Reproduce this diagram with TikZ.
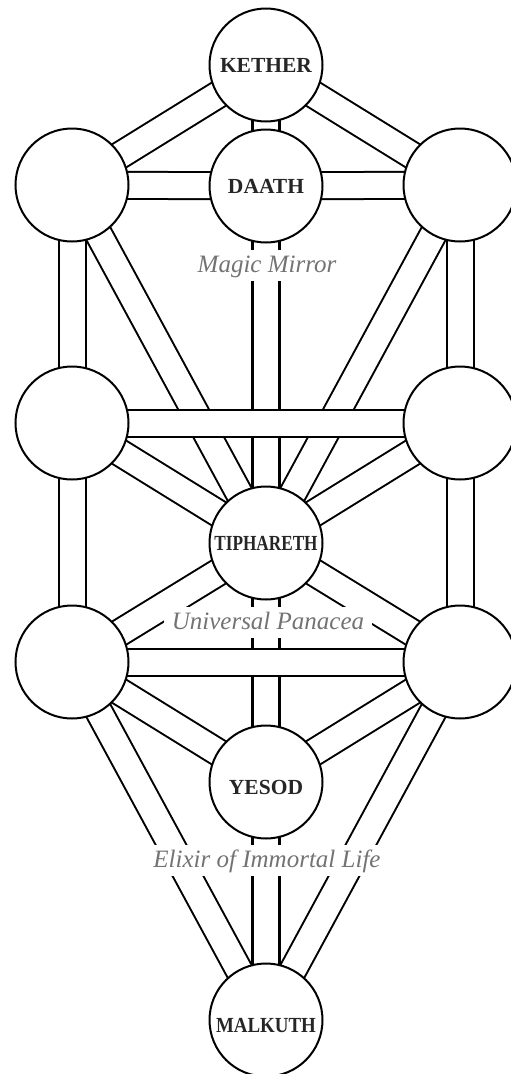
\documentclass[tikz,border=0pt]{standalone}
\usepackage{fontspec}
\usepackage{graphicx}
\setmainfont{Liberation Serif}
\pgfdeclarelayer{background}
\pgfsetlayers{background,main}
\begin{document}
\begin{tikzpicture}[x=1pt,y=-1pt,
  sephira/.style={circle, draw=black, line width=2pt, fill=white,
    minimum size=113pt, inner sep=0pt,
    font=\fontsize{21.5}{24}\selectfont\bfseries, text=black!85},
  lowtext/.style={text height=24pt, text depth=0pt},
  chan/.style={draw=black, line width=2pt, double=white, double distance=25pt},
  pillar/.style={draw=black, line width=3.2pt, double=white, double distance=23.8pt},
  gloss/.style={fill=white, inner xsep=8pt, inner ysep=0pt, text height=22pt,
    text depth=9pt, anchor=base, font=\fontsize{25}{28}\selectfont\itshape,
    text=black!55}]
\useasboundingbox (0,0) rectangle (511,1074);
% sephiroth
\node[sephira] (K)  at (266,65)  {KETHER};
\node[sephira] (D)  at (266,186) {DAATH};
\node[sephira] (LT) at (72,185)  {};
\node[sephira] (RT) at (460,185) {};
\node[sephira] (LM) at (72,423)  {};
\node[sephira] (RM) at (460,423) {};
\node[sephira] (T)  at (266,543) {\scalebox{0.8}[1]{TIPHARETH}};
\node[sephira] (LL) at (72,662)  {};
\node[sephira] (RL) at (460,662) {};
\node[sephira, lowtext] (Y) at (266,782) {YESOD};
\node[sephira, lowtext] (M) at (266,1020) {\scalebox{0.88}[1]{MALKUTH}};
% glosses
\node[gloss] (mm) at (267,272) {Magic Mirror};
\node[gloss] (up) at (268,629) {Universal Panacea};
\node[gloss] (el) at (267,867) {Elixir of Immortal Life};
% paths
\begin{pgfonlayer}{background}
\draw[chan] (K.center) -- (LT.center);
\draw[chan] (K.center) -- (RT.center);
\draw[chan] (LT.center) -- (D.center);
\draw[chan] (D.center) -- (RT.center);
\draw[chan] (LT.center) -- (LM.center);
\draw[chan] (RT.center) -- (RM.center);
\draw[chan] (LT.center) -- (T.center);
\draw[chan] (RT.center) -- (T.center);
\draw[chan] (LM.center) -- (T.center);
\draw[chan] (RM.center) -- (T.center);
\draw[chan] (LM.center) -- (LL.center);
\draw[chan] (RM.center) -- (RL.center);
\draw[chan] (T.center) -- (LL.center);
\draw[chan] (T.center) -- (RL.center);
\draw[chan] (LL.center) -- (Y.center);
\draw[chan] (RL.center) -- (Y.center);
\draw[chan] (LL.center) -- (M.center);
\draw[chan] (RL.center) -- (M.center);
\draw[pillar] (K.center) -- (D.center);
\draw[pillar] (D.center) -- (T.center);
\draw[pillar] (T.center) -- (Y.center);
\draw[pillar] (Y.center) -- (M.center);
\draw[chan] (LM.center) -- (RM.center);
\draw[chan] (LL.center) -- (RL.center);
\end{pgfonlayer}
\end{tikzpicture}
\end{document}
